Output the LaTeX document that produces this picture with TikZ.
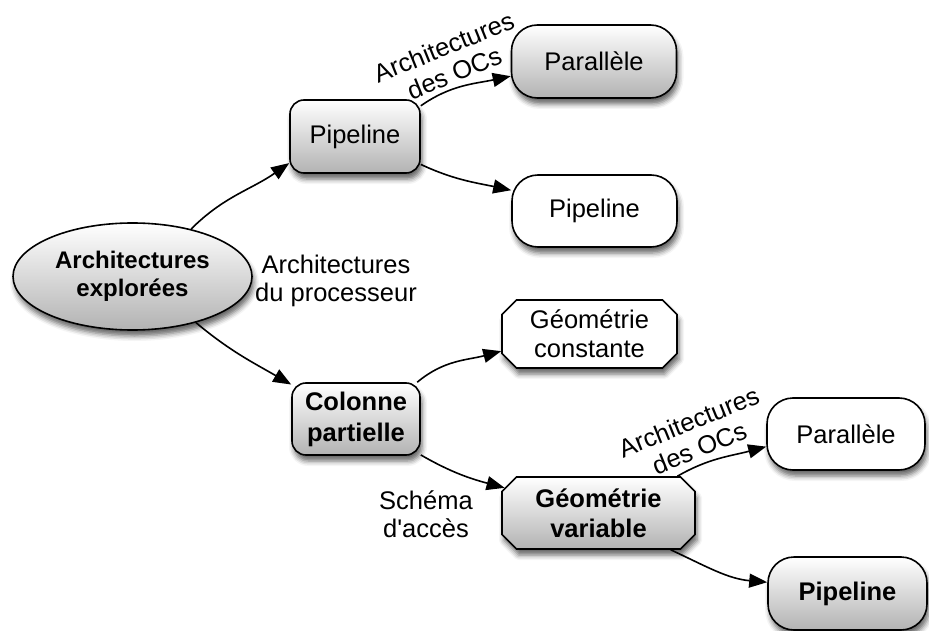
\documentclass[tikz,border=0pt]{standalone}
\usepackage{fontspec}
\setmainfont{Liberation Sans}
\usetikzlibrary{shapes.geometric,shapes.misc,shadows.blur,arrows.meta}
\begin{document}
\begin{tikzpicture}[x=1pt,y=1pt,
  base/.style={draw=black, line width=1.6pt, align=center, inner sep=0pt,
     font=\fontsize{25.5}{29}\selectfont,
     blur shadow={shadow xshift=2pt, shadow yshift=-6pt, shadow blur radius=5pt, shadow opacity=60}},
  grayfill/.style={top color=white, bottom color=black!30},
  whitefill/.style={fill=white},
  rbox/.style={base, rectangle, rounded corners=14pt},
  pill/.style={base, rectangle, rounded corners=26pt},
  cbox/.style={base, chamfered rectangle, chamfered rectangle xsep=11pt},
  lab/.style={align=center, inner sep=0pt, font=\fontsize{25.5}{28}\selectfont},
  arr/.style={line width=1.6pt, -{Triangle[length=18pt,width=14pt]}}
]
\useasboundingbox (0,0) rectangle (929,-631);

% nodes
\node[base, ellipse, grayfill, minimum width=239pt, minimum height=107pt,
      font=\bfseries\fontsize{24}{28}\selectfont] (root) at (132.5,-276.5) {Architectures\\explorées};
\node[rbox, grayfill, minimum width=130pt, minimum height=73pt] (pip1) at (355,-136.5) {Pipeline};
\node[pill, grayfill, minimum width=165pt, minimum height=73pt] (par1) at (594,-61.5) {Parallèle};
\node[pill, whitefill, minimum width=165pt, minimum height=72pt] (pip2) at (594.5,-211) {Pipeline};
\node[cbox, whitefill, minimum width=175pt, minimum height=68pt] (gc) at (589.5,-334) {Géométrie\\constante};
\node[rbox, grayfill, minimum width=128pt, minimum height=72pt,
      font=\bfseries\fontsize{25.5}{31}\selectfont] (col) at (356,-419) {Colonne\\partielle};
\node[cbox, grayfill, minimum width=193pt, minimum height=72pt,
      font=\bfseries\fontsize{25.5}{30}\selectfont] (gv) at (598.5,-513) {Géométrie\\variable};
\node[pill, whitefill, minimum width=158pt, minimum height=72pt] (par2) at (846,-434) {Parallèle};
\node[pill, grayfill, minimum width=159pt, minimum height=73pt,
      font=\bfseries\fontsize{25.5}{29}\selectfont] (pip3) at (847.5,-593.5) {Pipeline};

% labels
\node[lab, rotate=22] (l1) at (449,-60) {Architectures\\des OCs};
\node[lab] (l2) at (336,-281) {Architectures\\du processeur};
\node[lab] (l3) at (426,-514) {Schéma\\d\textquotesingle accès};
\node[lab, rotate=22] (l4) at (694,-435) {Architectures\\des OCs};

% connectors
\draw[arr] (root.39) to[out=45,in=215] (pip1.202);
\draw[arr] (pip1.25) to[out=35,in=192] (par1.190.5);
\draw[arr] (pip1.-23) to[out=-25,in=168] (pip2.166);
\draw[arr] (root.-36) to[out=-40,in=150] (col.152);
\draw[arr] (col.31) to[out=40,in=195] (gc.191.6);
\draw[arr] (col.-29) to[out=-30,in=165] (gv.165.5);
\draw[arr] (gv.25.5) to[out=30,in=195] (par2.189);
\draw[arr] (gv.-27) to[out=-25,in=175] (pip3.172);
\end{tikzpicture}
\end{document}
